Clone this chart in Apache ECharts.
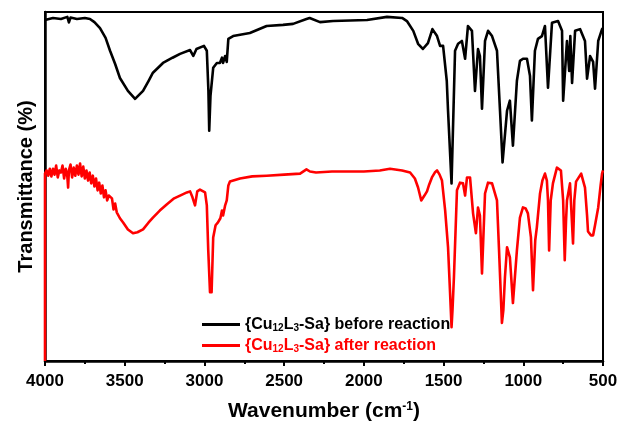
<!DOCTYPE html>
<html>
<head>
<meta charset="utf-8">
<script src="https://cdn.jsdelivr.net/npm/echarts@6/dist/echarts.min.js"></script>
<style>
  html, body { margin: 0; padding: 0; background: #fff; }
  #chart { width: 623px; height: 427px; }
</style>
</head>
<body>
<div id="chart"></div>
<script>
// FTIR spectra of {Cu12L3-Sa}, offset transmittance (arbitrary units)
const xTicks = [4000, 3500, 3000, 2500, 2000, 1500, 1000, 500];

const beforeWavenumber = [
  4000, 3950, 3900, 3860, 3850, 3840, 3800, 3750, 3718, 3690, 3655, 3620, 3592, 3560, 3530, 3480,
  3435, 3385, 3350, 3323, 3260, 3200, 3153, 3090, 3070, 3050, 3003, 2985, 2975, 2970, 2962, 2945,
  2922, 2903, 2890, 2883, 2870, 2860, 2850, 2820, 2715, 2610, 2507, 2444, 2360, 2340, 2275, 2193,
  1980, 1855, 1760, 1730, 1690, 1660, 1630, 1598, 1570, 1541, 1522, 1503, 1480, 1472, 1450, 1428,
  1409, 1385, 1365, 1347, 1322, 1303, 1284, 1272, 1259, 1240, 1221, 1196, 1165, 1146, 1130, 1102,
  1084, 1065, 1040, 1021, 1002, 977, 958, 946, 927, 908, 883, 864, 845, 820, 782, 757,
  750, 726, 712, 705, 694, 675, 644, 613, 600, 581, 562, 550, 530, 506, 500
];
const beforeT = [
  97.7, 98.3, 98.0, 98.6, 97.0, 98.4, 98.0, 98.3, 98.0, 97.1, 95.4, 92.6, 88.9, 85.1, 81.1, 77.4,
  75.1, 77.4, 80.3, 82.6, 85.4, 86.9, 88.0, 89.1, 87.4, 89.4, 90.3, 88.9, 77.4, 66.0, 76.0, 84.0,
  85.4, 85.4, 86.9, 85.4, 87.4, 85.7, 92.3, 93.1, 94.0, 96.0, 96.3, 96.6, 98.0, 98.3, 97.1, 97.4,
  97.7, 98.6, 98.3, 97.4, 94.6, 90.9, 89.4, 91.1, 95.1, 93.1, 90.3, 90.3, 80.3, 71.7, 50.9, 88.9,
  90.9, 91.7, 86.6, 96.0, 94.6, 77.4, 89.4, 87.4, 72.3, 91.7, 94.6, 93.1, 88.9, 71.7, 56.9, 71.7,
  74.6, 61.7, 80.3, 86.0, 86.6, 86.6, 81.7, 68.9, 88.9, 92.3, 93.1, 96.0, 78.3, 96.9, 97.4, 94.6,
  74.6, 91.7, 83.1, 93.1, 79.7, 94.6, 95.1, 91.7, 80.9, 87.4, 85.7, 78.0, 91.7, 95.1, 95.4
];

const afterWavenumber = [
  4000, 4000, 3990, 3980, 3970, 3960, 3950, 3940, 3930, 3920, 3910, 3900, 3890, 3880, 3870, 3860,
  3855, 3850, 3840, 3830, 3820, 3810, 3800, 3790, 3780, 3770, 3760, 3750, 3740, 3730, 3720, 3710,
  3700, 3690, 3680, 3670, 3660, 3650, 3640, 3630, 3620, 3610, 3600, 3580, 3570, 3560, 3550, 3530,
  3510, 3480, 3448, 3420, 3385, 3350, 3323, 3280, 3235, 3190, 3153, 3110, 3090, 3075, 3059, 3045,
  3028, 2996, 2985, 2976, 2965, 2960, 2955, 2945, 2930, 2915, 2900, 2890, 2883, 2870, 2860, 2850,
  2840, 2777, 2700, 2610, 2500, 2400, 2360, 2338, 2300, 2200, 2000, 1900, 1836, 1760, 1710, 1680,
  1660, 1640, 1620, 1604, 1590, 1573, 1555, 1541, 1525, 1510, 1490, 1472, 1460, 1450, 1444, 1435,
  1416, 1397, 1378, 1365, 1353, 1334, 1315, 1297, 1284, 1272, 1259, 1240, 1221, 1196, 1165, 1152,
  1134, 1125, 1115, 1102, 1084, 1065, 1040, 1021, 1002, 985, 971, 952, 939, 925, 915, 895,
  880, 864, 852, 845, 838, 828, 814, 789, 764, 750, 740, 732, 726, 707, 688, 680,
  669, 637, 613, 600, 594, 575, 562, 550, 530, 515, 506, 500
];
const afterT = [
  0.0, 53.7, 54.6, 53.1, 55.1, 52.9, 55.1, 53.4, 56.0, 52.6, 54.6, 54.0, 56.0, 52.3, 55.1, 52.9,
  49.7, 54.6, 56.3, 52.6, 55.4, 53.1, 56.0, 53.4, 56.6, 52.9, 55.7, 52.3, 54.6, 51.7, 54.0, 50.9,
  53.1, 50.0, 52.3, 48.9, 51.1, 48.0, 50.3, 46.9, 48.9, 46.0, 47.4, 46.6, 43.4, 45.1, 42.6, 40.9,
  39.7, 37.7, 36.6, 36.9, 37.7, 39.7, 41.1, 43.1, 44.9, 46.6, 47.4, 48.3, 48.6, 46.9, 44.6, 48.6,
  49.1, 48.3, 44.6, 31.7, 19.7, 21.7, 19.7, 35.4, 38.9, 39.7, 40.9, 43.1, 41.7, 44.6, 46.0, 50.3,
  51.4, 52.3, 52.9, 53.1, 53.4, 53.7, 54.9, 54.3, 54.0, 54.3, 54.3, 54.6, 55.1, 54.6, 54.0, 52.3,
  49.7, 46.0, 47.4, 48.6, 50.6, 52.6, 54.0, 54.6, 53.4, 51.7, 43.1, 32.6, 20.3, 9.7, 14.6, 24.0,
  48.9, 51.1, 50.9, 47.4, 52.6, 52.6, 42.3, 36.6, 44.0, 41.7, 25.1, 48.0, 51.1, 50.9, 46.0, 31.7,
  10.9, 14.6, 24.0, 32.6, 29.7, 16.6, 31.7, 41.1, 44.0, 43.7, 42.3, 35.4, 20.3, 34.6, 38.3, 48.0,
  51.7, 53.7, 51.7, 46.0, 31.7, 46.0, 50.9, 55.4, 54.6, 46.0, 28.9, 40.0, 46.0, 50.9, 33.7, 46.0,
  51.4, 53.7, 49.7, 41.7, 37.1, 36.0, 36.0, 38.9, 44.0, 50.3, 53.7, 54.6
];

const zip = (xs, ys) => xs.map((x, i) => [x, ys[i]]);

const FONT = 'Arial, "Liberation Sans", sans-serif';
const chart = echarts.init(document.getElementById('chart'), null, { renderer: 'canvas' });

const legendRich = (color) => ({
  s: { fontSize: 10, fontWeight: 'bold', color: color, fontFamily: FONT, verticalAlign: 'bottom', lineHeight: 10 }
});

chart.setOption({
  animation: false,
  backgroundColor: '#fff',
  grid: {
    left: 45, right: 20, top: 12, bottom: 66,
    show: true, borderColor: '#000', borderWidth: 2, backgroundColor: 'transparent'
  },
  legend: {
    orient: 'vertical',
    left: 197, top: 311,
    itemWidth: 38, itemHeight: 3, itemGap: 4,
    icon: 'rect',
    textStyle: { fontFamily: FONT, fontWeight: 'bold', fontSize: 16, lineHeight: 17 },
    data: [
      { name: 'before', textStyle: { color: '#000', rich: legendRich('#000') } },
      { name: 'after', textStyle: { color: '#f00', rich: legendRich('#f00') } }
    ],
    formatter: (name) => '{Cu{s|12}L{s|3}-Sa} ' + (name === 'before' ? 'before reaction' : 'after reaction')
  },
  xAxis: {
    type: 'value',
    inverse: true,
    min: 500, max: 4000, interval: 500,
    name: 'Wavenumber (cm{sup|-1})',
    nameLocation: 'middle',
    nameGap: 40,
    nameTextStyle: {
      fontFamily: FONT, fontWeight: 'bold', fontSize: 21, color: '#000',
      rich: { sup: { fontFamily: FONT, fontWeight: 'bold', fontSize: 12, color: '#000', verticalAlign: 'top', lineHeight: 10 } }
    },
    axisLine: { lineStyle: { color: '#000', width: 2.5 } },
    axisTick: { inside: false, length: 5, lineStyle: { color: '#000', width: 2 } },
    minorTick: { show: true, splitNumber: 2, length: 3, lineStyle: { color: '#000', width: 2 } },
    axisLabel: {
      fontFamily: FONT, fontWeight: 'bold', fontSize: 17, color: '#000', margin: 12,
      formatter: (v) => String(v)
    },
    splitLine: { show: false }
  },
  yAxis: {
    type: 'value',
    min: 0, max: 100,
    name: 'Transmittance (%)',
    nameLocation: 'middle',
    nameGap: 9,
    nameTextStyle: { fontFamily: FONT, fontWeight: 'bold', fontSize: 20, color: '#000' },
    axisLine: { show: true, lineStyle: { color: '#000', width: 2.5 } },
    axisTick: { show: false },
    axisLabel: { show: false },
    splitLine: { show: false }
  },
  series: [
    {
      name: 'before', type: 'line', data: zip(beforeWavenumber, beforeT),
      showSymbol: false, symbol: 'none', color: '#000',
      lineStyle: { color: '#000', width: 2.6, join: 'round' }
    },
    {
      name: 'after', type: 'line', data: zip(afterWavenumber, afterT),
      showSymbol: false, symbol: 'none', color: '#f00',
      lineStyle: { color: '#f00', width: 2.6, join: 'round' }
    }
  ]
});
</script>
</body>
</html>
